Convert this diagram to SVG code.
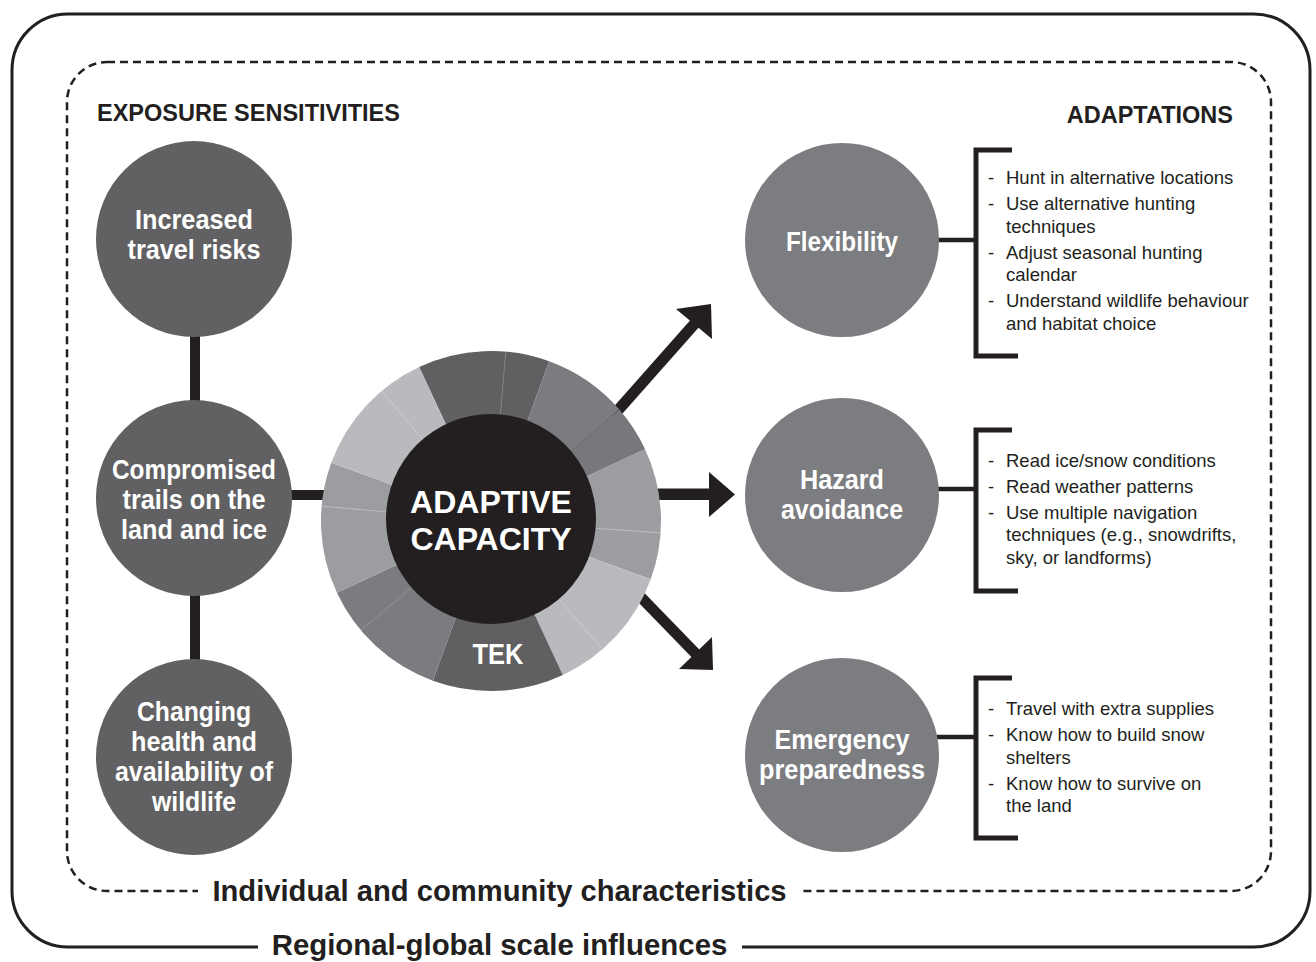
<svg xmlns="http://www.w3.org/2000/svg" width="1316" height="962" viewBox="0 0 1316 962">
  <style>
    .ink { fill: #231f20; }
    .head { font-family: "Liberation Sans", Arial, Helvetica, sans-serif; font-weight: bold; fill: #231f20; }
    .node-text { font-family: "Liberation Sans", Arial, Helvetica, sans-serif; font-weight: bold; fill: #ffffff; font-size: 27px; text-anchor: middle; }
    .list { font-family: "Liberation Sans", Arial, Helvetica, sans-serif; fill: #231f20; font-size: 18.5px; }
    .bar { stroke: #231f20; fill: none; }
    .exposure { fill: #616163; }
    .adapt { fill: #7c7d80; }
    .seg-dark { fill: #606062; }
    .seg-mid { fill: #7b7c7f; }
    .seg-midlight { fill: #9c9da0; }
    .seg-light { fill: #b9babd; }
  </style>

  <rect width="1316" height="962" fill="#ffffff"/>

  <!-- outer frame: regional-global scale -->
  <g id="frame-regional">
    <rect x="12" y="14" width="1298" height="933" rx="56" ry="56" fill="none" stroke="#231f20" stroke-width="3"/>
    <rect x="258" y="935" width="484" height="24" fill="#ffffff"/>
    <text class="head" x="499.5" y="955" font-size="29.4" text-anchor="middle">Regional-global scale influences</text>
  </g>

  <!-- inner frame: individual and community -->
  <g id="frame-community">
    <rect x="67" y="62" width="1204" height="829" rx="40" ry="40" fill="none" stroke="#231f20" stroke-width="2.5" stroke-dasharray="8 5"/>
    <rect x="198" y="878" width="604" height="26" fill="#ffffff"/>
    <text class="head" x="499.5" y="901" font-size="29.2" text-anchor="middle">Individual and community characteristics</text>
  </g>

  <g id="headings">
    <text class="head" x="97" y="121" font-size="23.5">EXPOSURE SENSITIVITIES</text>
    <text class="head" x="1233" y="123" font-size="23.5" text-anchor="end">ADAPTATIONS</text>
  </g>

  <!-- connectors -->
  <g id="connectors">
    <line class="bar" x1="195" y1="330" x2="195" y2="410" stroke-width="10"/>
    <line class="bar" x1="195" y1="590" x2="195" y2="665" stroke-width="10"/>
    <line class="bar" x1="285" y1="495" x2="330" y2="495" stroke-width="10"/>

    <line class="bar" x1="612" y1="417" x2="697" y2="321" stroke-width="11"/>
    <polygon class="ink" points="711,304 676,309 712,339"/>

    <line class="bar" x1="650" y1="494.3" x2="712" y2="494.3" stroke-width="11.5"/>
    <polygon class="ink" points="709,472 735,494.5 709,517"/>

    <line class="bar" x1="632" y1="588" x2="698" y2="656" stroke-width="11"/>
    <polygon class="ink" points="713,670 712,637 679,669"/>

    <line class="bar" x1="935" y1="240" x2="976" y2="240" stroke-width="4.5"/>
    <line class="bar" x1="935" y1="489" x2="976" y2="489" stroke-width="4.5"/>
    <line class="bar" x1="935" y1="737" x2="976" y2="737" stroke-width="4.5"/>
  </g>

  <!-- exposure sensitivities -->
  <g id="node-travel-risks">
    <circle class="exposure" cx="194" cy="239" r="98"/>
    <text class="node-text"><tspan x="194" y="229" textLength="118" lengthAdjust="spacingAndGlyphs">Increased</tspan><tspan x="194" y="259" textLength="133" lengthAdjust="spacingAndGlyphs">travel risks</tspan></text>
  </g>
  <g id="node-trails">
    <circle class="exposure" cx="194" cy="498" r="98"/>
    <text class="node-text"><tspan x="194" y="479" textLength="164" lengthAdjust="spacingAndGlyphs">Compromised</tspan><tspan x="194" y="509" textLength="143" lengthAdjust="spacingAndGlyphs">trails on the</tspan><tspan x="194" y="539" textLength="146" lengthAdjust="spacingAndGlyphs">land and ice</tspan></text>
  </g>
  <g id="node-wildlife">
    <circle class="exposure" cx="194" cy="757" r="98"/>
    <text class="node-text"><tspan x="194" y="721" textLength="114" lengthAdjust="spacingAndGlyphs">Changing</tspan><tspan x="194" y="751" textLength="126" lengthAdjust="spacingAndGlyphs">health and</tspan><tspan x="194" y="781" textLength="158" lengthAdjust="spacingAndGlyphs">availability of</tspan><tspan x="194" y="811" textLength="84" lengthAdjust="spacingAndGlyphs">wildlife</tspan></text>
  </g>

  <!-- adaptive capacity wheel -->
  <g id="node-adaptive-capacity">
    <path class="seg-dark" d="M491,521 L419.16,366.93 A170,170 0 0 1 549.14,361.25 Z"/>
    <path class="seg-mid" d="M491,521 L549.14,361.25 A170,170 0 0 1 619.30,409.46 Z"/>
    <path fill="#77787b" d="M491,521 L619.30,409.46 A170,170 0 0 1 645.07,449.16 Z"/>
    <path class="seg-midlight" d="M491,521 L645.07,449.16 A170,170 0 0 1 650.75,579.14 Z"/>
    <path class="seg-light" d="M491,521 L650.75,579.14 A170,170 0 0 1 562.84,675.07 Z"/>
    <path class="seg-dark" d="M491,521 L562.84,675.07 A170,170 0 0 1 432.86,680.75 Z"/>
    <path class="seg-mid" d="M491,521 L432.86,680.75 A170,170 0 0 1 336.93,592.84 Z"/>
    <path class="seg-midlight" d="M491,521 L336.93,592.84 A170,170 0 0 1 331.25,462.86 Z"/>
    <path class="seg-light" d="M491,521 L331.25,462.86 A170,170 0 0 1 419.16,366.93 Z"/>
    <g stroke-width="0.8">
      <line x1="500.15" y1="416.40" x2="505.82" y2="351.65" stroke="#8d8d90"/>
      <line x1="570.24" y1="452.11" x2="619.30" y2="409.46" stroke="#5a5a5d"/>
      <line x1="595.75" y1="528.33" x2="660.59" y2="532.86" stroke="#c4c5c8"/>
      <line x1="559.89" y1="600.24" x2="602.54" y2="649.30" stroke="#d0d1d3"/>
      <line x1="410.57" y1="588.49" x2="360.78" y2="630.28" stroke="#9a9b9e"/>
      <line x1="386.40" y1="511.85" x2="321.65" y2="506.18" stroke="#c4c5c8"/>
      <line x1="423.51" y1="440.57" x2="381.72" y2="390.78" stroke="#d0d1d3"/>
    </g>
    <circle cx="491" cy="519" r="105" fill="#231f20"/>
    <text class="head" x="491" y="512.5" font-size="32" text-anchor="middle" style="fill:#ffffff">ADAPTIVE</text>
    <text class="head" x="491" y="550" font-size="32" text-anchor="middle" style="fill:#ffffff">CAPACITY</text>
    <text class="head" x="498" y="663.5" font-size="30" text-anchor="middle" style="fill:#ffffff" textLength="51" lengthAdjust="spacingAndGlyphs">TEK</text>
  </g>

  <!-- adaptations -->
  <g id="node-flexibility">
    <circle class="adapt" cx="842" cy="240" r="97"/>
    <text class="node-text"><tspan x="842" y="251" textLength="112" lengthAdjust="spacingAndGlyphs">Flexibility</tspan></text>
  </g>
  <g id="node-hazard-avoidance">
    <circle class="adapt" cx="842" cy="495" r="97"/>
    <text class="node-text"><tspan x="842" y="489" textLength="84" lengthAdjust="spacingAndGlyphs">Hazard</tspan><tspan x="842" y="519" textLength="122" lengthAdjust="spacingAndGlyphs">avoidance</tspan></text>
  </g>
  <g id="node-emergency-preparedness">
    <circle class="adapt" cx="842" cy="755" r="97"/>
    <text class="node-text"><tspan x="842" y="749" textLength="135" lengthAdjust="spacingAndGlyphs">Emergency</tspan><tspan x="842" y="779" textLength="166" lengthAdjust="spacingAndGlyphs">preparedness</tspan></text>
  </g>

  <!-- adaptation lists -->
  <g id="list-flexibility">
    <path class="bar" d="M1012,150 H976 V356 H1018" stroke-width="5"/>
    <text class="list">
      <tspan x="988" y="184">-</tspan><tspan x="1006" y="184">Hunt in alternative locations</tspan>
      <tspan x="988" y="210">-</tspan><tspan x="1006" y="210">Use alternative hunting</tspan>
      <tspan x="1006" y="233">techniques</tspan>
      <tspan x="988" y="259">-</tspan><tspan x="1006" y="259">Adjust seasonal hunting</tspan>
      <tspan x="1006" y="281">calendar</tspan>
      <tspan x="988" y="307">-</tspan><tspan x="1006" y="307">Understand wildlife behaviour</tspan>
      <tspan x="1006" y="330">and habitat choice</tspan>
    </text>
  </g>
  <g id="list-hazard-avoidance">
    <path class="bar" d="M1012,430 H976 V591 H1018" stroke-width="5"/>
    <text class="list">
      <tspan x="988" y="467">-</tspan><tspan x="1006" y="467">Read ice/snow conditions</tspan>
      <tspan x="988" y="493">-</tspan><tspan x="1006" y="493">Read weather patterns</tspan>
      <tspan x="988" y="519">-</tspan><tspan x="1006" y="519">Use multiple navigation</tspan>
      <tspan x="1006" y="541">techniques (e.g., snowdrifts,</tspan>
      <tspan x="1006" y="564">sky, or landforms)</tspan>
    </text>
  </g>
  <g id="list-emergency-preparedness">
    <path class="bar" d="M1012,678 H976 V838 H1018" stroke-width="5"/>
    <text class="list">
      <tspan x="988" y="715">-</tspan><tspan x="1006" y="715">Travel with extra supplies</tspan>
      <tspan x="988" y="741">-</tspan><tspan x="1006" y="741">Know how to build snow</tspan>
      <tspan x="1006" y="764">shelters</tspan>
      <tspan x="988" y="790">-</tspan><tspan x="1006" y="790">Know how to survive on</tspan>
      <tspan x="1006" y="812">the land</tspan>
    </text>
  </g>
</svg>
